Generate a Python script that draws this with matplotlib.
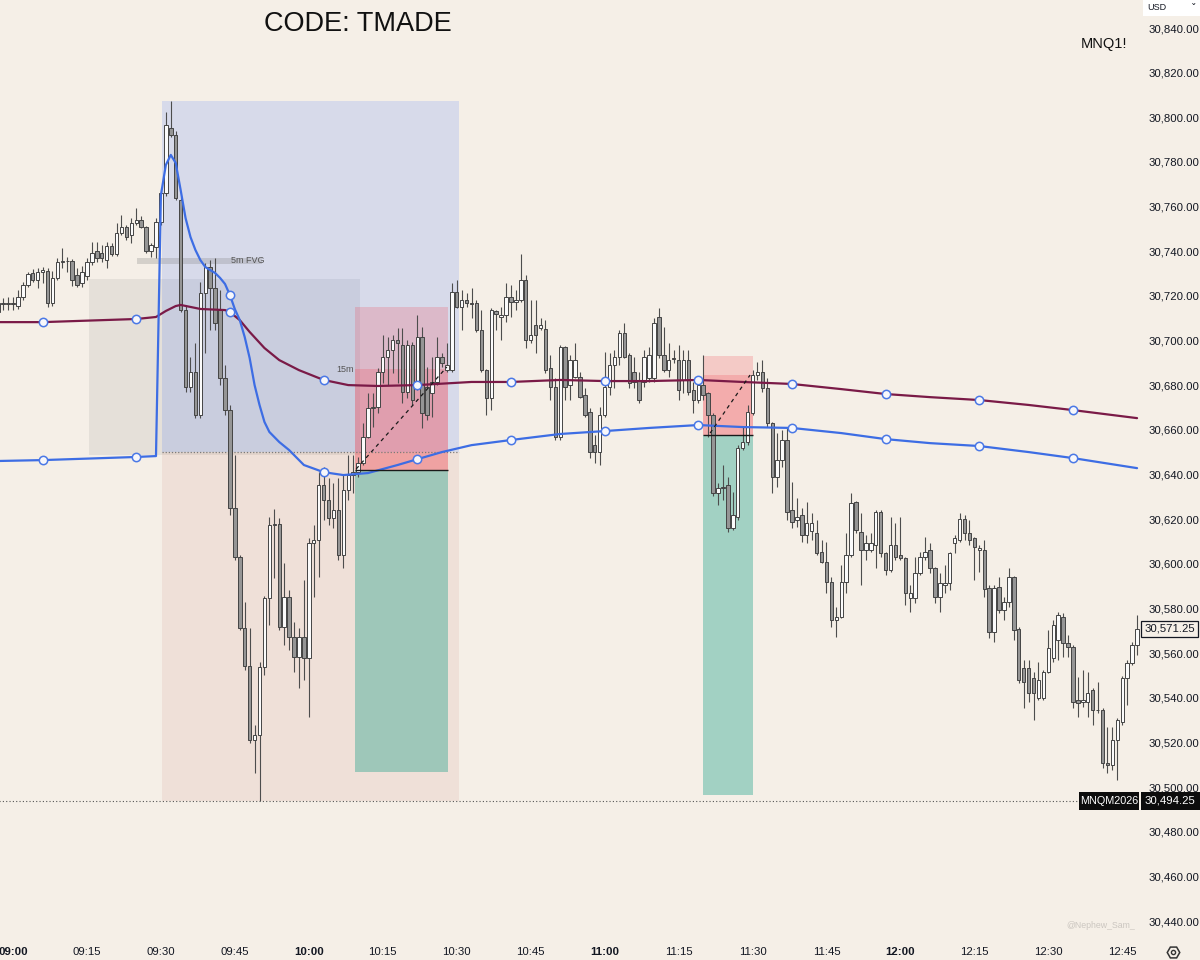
"""
MNQ1! 1分钟K线复刻图 (CODE: TMADE)
"""
import numpy as np
import matplotlib
matplotlib.use('Agg')
import matplotlib.pyplot as plt
from matplotlib import transforms, font_manager
from matplotlib.patches import Rectangle
from matplotlib.lines import Line2D

# ---------------- data ----------------
# 1-minute bars, bar 0 = 09:00
first_bar = -3

opens = [
    30713.2, 30717.3, 30716.8, 30717.3, 30715.9, 30720.0, 30725.3, 30730.7, 30727.6, 30731.1,
    30731.6, 30717.3, 30728.5, 30735.6, 30736.1, 30736.1, 30729.8, 30726.2, 30729.4, 30735.6,
    30740.6, 30739.7, 30736.5, 30742.8, 30739.2, 30748.6, 30751.3, 30747.7, 30753.1, 30754.3,
    30751.3, 30740.6, 30742.3, 30753.5, 30766.5, 30795.7, 30792.5, 30763.4, 30714.1, 30679.6,
    30686.3, 30667.1, 30721.7, 30733.4, 30724.0, 30714.1, 30683.7, 30669.3, 30625.4, 30603.5,
    30571.7, 30554.8, 30521.6, 30523.7, 30554.2, 30585.1, 30617.8, 30618.2, 30572.1, 30585.5,
    30567.6, 30558.7, 30567.6, 30558.2, 30609.7, 30611.1, 30635.7, 30629.0, 30620.9, 30624.5,
    30604.4, 30633.5, 30640.2, 30641.5, 30645.6, 30657.2, 30670.2, 30670.7, 30686.3, 30693.1,
    30696.2, 30700.7, 30698.4, 30677.4, 30698.4, 30680.5, 30702.0, 30679.6, 30676.9, 30681.9,
    30693.1, 30687.2, 30687.2, 30722.2, 30715.5, 30718.6, 30717.3, 30717.3, 30705.2, 30687.2,
    30674.7, 30713.7, 30711.0, 30711.9, 30719.9, 30717.7, 30718.6, 30727.6, 30700.7, 30707.4,
    30706.1, 30705.6, 30688.1, 30679.6, 30657.2, 30697.5, 30680.5, 30684.1, 30684.1, 30676.0,
    30668.4, 30653.6, 30650.5, 30667.1, 30679.6, 30689.5, 30693.1, 30703.8, 30694.0, 30686.3,
    30682.8, 30681.9, 30683.7, 30683.7, 30711.0, 30694.0, 30687.2, 30692.6, 30691.7, 30682.8,
    30691.7, 30678.3, 30673.8, 30680.5, 30676.9, 30667.1, 30632.1, 30634.4, 30635.7, 30616.5,
    30621.4, 30652.3, 30655.0, 30668.0, 30685.0, 30686.3, 30679.2, 30663.5, 30639.3, 30646.9,
    30655.9, 30624.5, 30620.0, 30622.3, 30613.3, 30615.0, 30614.2, 30605.7, 30601.2, 30592.3,
    30575.2, 30576.6, 30592.3, 30604.4, 30628.1, 30614.7, 30606.6, 30606.6, 30608.8, 30623.6,
    30605.3, 30597.6, 30608.8, 30604.4, 30603.0, 30585.1, 30585.1, 30596.3, 30603.5, 30606.6,
    30598.5, 30585.5, 30590.9, 30591.8, 30609.7, 30611.1, 30620.5, 30614.2, 30612.0, 30606.6,
    30606.6, 30589.6, 30569.9, 30590.0, 30579.7, 30583.3, 30594.5, 30571.2, 30553.7, 30553.7,
    30549.3, 30540.3, 30540.3, 30551.9, 30558.2, 30566.3, 30576.6, 30564.9, 30563.1, 30539.4,
    30538.5, 30538.5, 30543.9, 30534.9, 30534.9, 30511.2, 30510.3, 30521.5, 30529.5, 30549.3,
    30556.0, 30564.0,
]
highs = [
    30719.5, 30719.5, 30720.0, 30720.0, 30723.1, 30726.7, 30731.1, 30732.5, 30732.9, 30733.4,
    30732.9, 30731.6, 30737.4, 30741.9, 30737.9, 30737.0, 30732.9, 30733.8, 30737.4, 30744.6,
    30744.6, 30743.2, 30744.6, 30744.1, 30753.1, 30756.7, 30752.2, 30755.3, 30759.8, 30756.2,
    30751.8, 30744.1, 30755.3, 30768.8, 30802.8, 30807.8, 30794.3, 30764.7, 30716.4, 30693.1,
    30699.3, 30726.7, 30735.2, 30736.5, 30737.4, 30723.1, 30689.5, 30671.6, 30649.2, 30604.4,
    30583.3, 30571.8, 30528.2, 30556.4, 30586.0, 30621.4, 30625.0, 30620.9, 30600.8, 30588.7,
    30574.3, 30571.7, 30593.2, 30612.0, 30617.8, 30641.5, 30643.8, 30638.9, 30636.6, 30638.9,
    30640.2, 30649.2, 30649.2, 30648.3, 30663.5, 30676.9, 30676.9, 30688.1, 30702.9, 30702.0,
    30702.9, 30706.1, 30706.1, 30700.7, 30699.8, 30711.9, 30706.5, 30688.6, 30693.1, 30702.0,
    30694.9, 30699.3, 30726.2, 30727.6, 30723.1, 30721.7, 30724.0, 30718.6, 30714.1, 30687.9,
    30715.0, 30714.1, 30715.5, 30726.2, 30725.3, 30723.1, 30739.2, 30729.8, 30718.6, 30718.6,
    30710.5, 30709.6, 30694.0, 30683.7, 30698.4, 30698.0, 30694.0, 30699.3, 30686.3, 30679.2,
    30670.2, 30658.1, 30670.7, 30695.3, 30694.9, 30696.2, 30705.2, 30708.3, 30694.9, 30693.1,
    30686.3, 30696.2, 30697.5, 30710.5, 30715.0, 30706.5, 30699.3, 30696.2, 30698.4, 30696.2,
    30696.2, 30681.9, 30683.7, 30694.0, 30677.4, 30668.0, 30636.6, 30644.7, 30639.3, 30632.6,
    30653.6, 30661.7, 30671.6, 30687.2, 30690.8, 30691.7, 30683.7, 30663.9, 30659.0, 30660.4,
    30661.7, 30637.1, 30629.9, 30625.4, 30628.1, 30623.2, 30620.0, 30611.1, 30610.2, 30594.5,
    30581.1, 30599.9, 30614.2, 30632.1, 30628.5, 30623.2, 30613.3, 30614.2, 30624.5, 30624.5,
    30605.7, 30621.4, 30618.7, 30621.4, 30603.5, 30590.9, 30603.5, 30605.7, 30612.4, 30609.7,
    30599.0, 30596.3, 30599.9, 30605.7, 30613.3, 30623.2, 30622.3, 30620.0, 30612.4, 30608.8,
    30611.1, 30590.9, 30590.9, 30594.5, 30585.5, 30598.5, 30595.0, 30572.1, 30557.3, 30557.3,
    30551.9, 30556.4, 30552.8, 30570.8, 30575.2, 30578.8, 30578.4, 30568.5, 30564.0, 30549.7,
    30552.8, 30551.9, 30544.8, 30547.5, 30535.8, 30527.3, 30527.3, 30531.3, 30550.2, 30557.3,
    30565.4, 30577.5,
]
lows = [
    30711.0, 30714.1, 30714.1, 30714.1, 30714.6, 30718.6, 30724.4, 30726.7, 30724.0, 30726.2,
    30715.5, 30715.9, 30727.6, 30733.0, 30731.1, 30724.9, 30724.4, 30724.4, 30727.6, 30734.3,
    30735.6, 30735.6, 30733.0, 30738.3, 30738.3, 30747.7, 30745.5, 30744.1, 30752.2, 30750.9,
    30739.7, 30737.9, 30737.4, 30752.2, 30765.2, 30791.6, 30763.4, 30713.2, 30677.4, 30677.4,
    30665.7, 30665.7, 30694.9, 30705.2, 30705.2, 30680.5, 30667.1, 30622.3, 30602.1, 30570.8,
    30553.0, 30520.3, 30506.7, 30494.25, 30550.6, 30573.0, 30594.1, 30570.8, 30564.0, 30561.8,
    30551.9, 30544.8, 30548.4, 30531.8, 30585.5, 30594.5, 30620.0, 30617.8, 30616.5, 30602.1,
    30598.5, 30629.0, 30632.1, 30639.3, 30644.7, 30656.8, 30661.7, 30668.0, 30681.4, 30680.5,
    30685.9, 30681.4, 30672.5, 30674.7, 30671.6, 30678.3, 30661.3, 30664.8, 30666.2, 30680.5,
    30688.6, 30686.3, 30686.3, 30715.0, 30705.2, 30715.5, 30710.5, 30704.3, 30686.3, 30667.1,
    30669.3, 30705.2, 30700.7, 30708.7, 30711.0, 30714.1, 30717.7, 30697.1, 30699.3, 30694.9,
    30705.2, 30685.9, 30673.8, 30655.9, 30655.9, 30673.8, 30673.8, 30683.7, 30674.7, 30666.2,
    30647.8, 30645.6, 30644.7, 30666.2, 30676.0, 30679.2, 30689.5, 30692.6, 30679.2, 30679.2,
    30672.5, 30679.6, 30681.9, 30681.9, 30692.6, 30686.3, 30684.1, 30690.4, 30673.8, 30676.9,
    30676.0, 30668.0, 30672.5, 30673.8, 30657.2, 30630.8, 30626.8, 30629.0, 30614.7, 30615.6,
    30620.0, 30651.4, 30653.6, 30667.1, 30682.8, 30677.4, 30661.7, 30632.1, 30634.8, 30643.8,
    30620.0, 30616.5, 30616.9, 30610.2, 30609.7, 30611.1, 30604.4, 30600.8, 30587.3, 30572.1,
    30567.6, 30576.1, 30587.3, 30603.5, 30614.2, 30590.9, 30602.1, 30605.7, 30598.5, 30603.5,
    30595.4, 30596.7, 30602.1, 30602.1, 30582.0, 30578.8, 30582.9, 30595.4, 30602.1, 30596.3,
    30582.9, 30578.8, 30587.3, 30588.7, 30605.3, 30610.2, 30611.1, 30608.8, 30593.2, 30596.7,
    30585.5, 30567.2, 30565.4, 30578.4, 30575.2, 30581.1, 30566.3, 30547.0, 30535.8, 30538.5,
    30530.4, 30539.4, 30539.4, 30551.5, 30556.4, 30557.3, 30558.7, 30558.7, 30535.8, 30531.8,
    30536.3, 30531.8, 30528.2, 30533.6, 30508.9, 30506.7, 30508.0, 30503.6, 30528.2, 30537.2,
    30555.1, 30559.6,
]
closes = [
    30717.3, 30716.8, 30717.3, 30716.8, 30720.0, 30725.3, 30730.2, 30727.6, 30731.1, 30732.0,
    30717.3, 30728.5, 30735.6, 30736.1, 30736.3, 30727.6, 30725.3, 30731.1, 30735.6, 30739.7,
    30737.4, 30737.4, 30742.8, 30739.2, 30748.6, 30751.3, 30746.8, 30753.1, 30754.3, 30751.3,
    30740.6, 30743.2, 30753.5, 30766.5, 30797.0, 30792.5, 30764.3, 30714.1, 30679.6, 30686.3,
    30667.1, 30721.7, 30733.4, 30724.0, 30708.3, 30683.7, 30669.3, 30625.4, 30603.5, 30571.7,
    30554.8, 30521.6, 30523.7, 30554.2, 30585.1, 30617.8, 30618.2, 30572.1, 30585.5, 30567.6,
    30558.7, 30567.6, 30558.2, 30609.7, 30611.1, 30635.7, 30629.0, 30620.9, 30624.5, 30604.4,
    30633.5, 30640.2, 30641.5, 30645.6, 30657.2, 30670.2, 30670.7, 30686.3, 30693.1, 30696.2,
    30700.7, 30699.3, 30677.4, 30698.4, 30673.8, 30702.0, 30668.0, 30667.1, 30681.9, 30693.1,
    30690.4, 30689.5, 30722.2, 30715.5, 30718.6, 30717.3, 30717.0, 30705.2, 30687.2, 30674.7,
    30714.1, 30712.3, 30711.9, 30719.9, 30717.7, 30718.6, 30727.6, 30700.7, 30702.9, 30702.9,
    30707.4, 30687.2, 30679.6, 30657.2, 30697.5, 30679.6, 30691.7, 30691.7, 30675.1, 30667.1,
    30650.5, 30650.5, 30667.1, 30679.6, 30689.5, 30693.1, 30703.8, 30693.1, 30681.4, 30681.9,
    30673.8, 30693.1, 30694.0, 30708.5, 30694.0, 30687.2, 30691.7, 30692.4, 30678.3, 30691.7,
    30677.4, 30673.8, 30680.5, 30676.0, 30667.1, 30632.1, 30634.4, 30634.8, 30616.5, 30622.3,
    30652.3, 30655.0, 30668.4, 30685.0, 30686.3, 30679.2, 30663.5, 30639.3, 30646.9, 30655.9,
    30623.6, 30619.1, 30621.4, 30613.3, 30618.7, 30618.7, 30605.3, 30601.2, 30592.3, 30575.2,
    30576.6, 30592.3, 30604.4, 30627.7, 30615.6, 30606.6, 30609.7, 30609.7, 30623.6, 30605.3,
    30597.6, 30608.8, 30603.5, 30603.0, 30587.3, 30587.3, 30596.3, 30603.5, 30605.7, 30598.5,
    30585.5, 30591.8, 30591.8, 30605.3, 30612.0, 30620.5, 30614.2, 30611.1, 30607.9, 30607.5,
    30589.1, 30569.9, 30589.6, 30579.7, 30583.3, 30594.5, 30570.8, 30548.4, 30547.5, 30542.5,
    30542.5, 30548.4, 30551.9, 30562.7, 30573.0, 30577.5, 30564.9, 30563.1, 30538.5, 30538.1,
    30539.4, 30542.5, 30534.9, 30535.1, 30511.2, 30510.3, 30521.5, 30530.4, 30549.3, 30556.0,
    30564.0, 30571.25,
]

# blue VWAP (resets at 09:30)
vwap_bars = [-3, 6, 25, 29, 30, 31, 32, 33, 34, 35, 36, 37, 38, 39, 40, 41, 42, 43, 44, 45,
             46, 47, 48, 49, 50, 51, 52, 54, 56, 59, 63, 67, 72, 78, 82, 87, 93, 101, 111, 120,
             129, 139, 148, 158, 168, 177, 186, 196, 206, 215, 228]
vwap_vals = [30646.5, 30646.9, 30648.3, 30648.7, 30765.6, 30779.1, 30783.6, 30780.0, 30767.9,
             30755.3, 30746.8, 30741.0, 30736.5, 30733.4, 30732.0, 30730.7, 30728.5, 30725.8,
             30720.8, 30714.5, 30709.6, 30702.0, 30692.6, 30680.5, 30671.6, 30664.0, 30659.5,
             30655.0, 30651.4, 30644.7, 30641.5, 30640.2, 30641.1, 30644.7, 30647.3, 30650.5,
             30653.6, 30655.9, 30658.6, 30659.9, 30661.3, 30662.6, 30661.7, 30661.3, 30659.0,
             30656.3, 30654.5, 30653.2, 30650.5, 30647.8, 30643.3]

# maroon average line
avg_bars = [-3, 6, 25, 29, 31, 33, 34, 36, 38, 43, 44, 46, 48, 51, 54, 58, 63, 68, 74, 82,
            93, 101, 111, 120, 129, 139, 148, 158, 168, 177, 186, 196, 206, 215, 228]
avg_vals = [30708.7, 30708.7, 30710.1, 30711.0, 30713.7, 30715.9, 30716.4, 30715.5, 30714.6,
            30714.1, 30713.2, 30709.6, 30704.3, 30697.1, 30691.7, 30687.2, 30682.8, 30680.5,
            30680.1, 30680.5, 30681.9, 30681.9, 30682.8, 30682.3, 30682.3, 30682.8, 30681.9,
            30681.0, 30678.7, 30676.5, 30675.1, 30673.8, 30671.6, 30669.3, 30665.7]

marker_bars = [6, 25, 44, 63, 82, 101, 120, 139, 158, 177, 196, 215]

# drawings (bars / prices)
pre_box_bars = (15.4, 70.4)
pre_box_prices = (30649.2, 30728.0)
range_bars = (30.2, 90.5)
range_high, range_mid, range_low = 30807.75, 30650.5, 30494.25
fvg5_bars = (25.2, 50.5)
fvg5_prices = (30734.9, 30737.6)

trade1_bars = (69.4, 88.2)
trade1_stop, trade1_fvg, trade1_entry, trade1_target = 30715.5, 30687.7, 30642.5, 30507.2
trade1_path = ([69.6, 88.0], [30642.9, 30688.6])
trade2_bars = (140.0, 150.1)
trade2_stop, trade2_fvg, trade2_entry, trade2_target = 30693.5, 30685.0, 30658.1, 30496.9
trade2_path = ([141.4, 149.5], [30659.0, 30685.0])

last_price = 30571.25
low_price = 30494.25

price_ticks = list(range(30440, 30841, 20))
time_bars = [0, 15, 30, 45, 60, 75, 90, 105, 120, 135, 150, 165, 180, 195, 210, 225]
time_labels = ['09:00', '09:15', '09:30', '09:45', '10:00', '10:15', '10:30', '10:45',
               '11:00', '11:15', '11:30', '11:45', '12:00', '12:15', '12:30', '12:45']

# ---------------- style ----------------
BG = '#f5efe7'
W, H = 1200, 960
names = {f.name for f in font_manager.fontManager.ttflist}
AX_FONT = 'Liberation Sans' if 'Liberation Sans' in names else 'DejaVu Sans'
if 'Liberation Sans Narrow' in names:
    TITLE_FONT, TITLE_SIZE, SYM_SIZE = 'Liberation Sans Narrow', 22, 12.5
else:
    TITLE_FONT, TITLE_SIZE, SYM_SIZE = AX_FONT, 19.5, 10.5

fig = plt.figure(figsize=(12, 9.6), dpi=100, facecolor=BG)
ax = fig.add_axes([0, 20 / H, 1141 / W, 940 / H])
ax.set_facecolor(BG)
ax.set_xlim(-2.64, 228.8)
ax.set_ylim(30431.94, 30852.99)
for s in ax.spines.values():
    s.set_visible(False)
ax.set_xticks([])
ax.set_yticks([])


def box(x0, x1, y0, y1, color, alpha, z=1):
    ax.add_patch(Rectangle((x0, y0), x1 - x0, y1 - y0, facecolor=color,
                           alpha=alpha, lw=0, zorder=z))


# shaded zones
box(*pre_box_bars, *pre_box_prices, '#787878', 0.12)
box(*range_bars, range_mid, range_high, '#2962ff', 0.145)
box(*range_bars, range_low, range_mid, '#c77a6e', 0.12)
box(*fvg5_bars, *fvg5_prices, '#8a8a8a', 0.3)
ax.hlines(range_mid, *range_bars, color='#7a7a7a', lw=0.9, linestyles=(0, (1, 1.5)), zorder=2)

for bars_, stop, fvg, entry, target, path in [
        (trade1_bars, trade1_stop, trade1_fvg, trade1_entry, trade1_target, trade1_path),
        (trade2_bars, trade2_stop, trade2_fvg, trade2_entry, trade2_target, trade2_path)]:
    box(*bars_, entry, stop, '#f23645', 0.2)
    box(*bars_, entry, fvg, '#f23645', 0.2)
    box(*bars_, target, entry, '#089981', 0.35)
    ax.hlines(entry, *bars_, color='#1a1a1a', lw=1.0, zorder=7)
    ax.plot(*path, color='#1a1a1a', lw=0.9, ls=(0, (3, 3)), zorder=7)

ax.text(fvg5_bars[1] - 6.3, np.mean(fvg5_prices), '5m FVG', fontsize=6.5,
        color='#555555', va='center', ha='left', family=AX_FONT, zorder=8)
ax.text(trade1_bars[0] - 0.3, trade1_fvg, '15m', fontsize=6.5, color='#555555',
        va='center', ha='right', family=AX_FONT, zorder=8)

# candles
bars = np.arange(first_bar, first_bar + len(closes))
o, hi, lo, c = (np.array(v) for v in (opens, highs, lows, closes))
up = c >= o
ax.vlines(bars, lo, hi, color='#4d4d4d', lw=0.8, zorder=3)
ax.bar(bars[up], (c - o)[up], bottom=o[up], width=0.7, color='#fbfbfb',
       edgecolor='#444444', lw=0.7, zorder=4)
ax.bar(bars[~up], (o - c)[~up], bottom=c[~up], width=0.7, color='#959595',
       edgecolor='#444444', lw=0.7, zorder=4)

# indicator lines
for xs, ys, col in [(avg_bars, avg_vals, '#7a1a47'), (vwap_bars, vwap_vals, '#3d6de4')]:
    ax.plot(xs, ys, color=col, lw=1.6, zorder=5, solid_capstyle='round',
            solid_joinstyle='round')
    idx = [xs.index(b) for b in marker_bars]
    ax.plot(np.array(xs)[idx], np.array(ys)[idx], 'o', ms=6, mfc='#f7f7fb',
            mec='#4a78e6', mew=1.1, zorder=6)

# low line
ax.hlines(low_price, -3, (1078 - 13) / 4.93, color='#555555', lw=0.8,
          linestyles=(0, (1, 2)), zorder=2)

# ---------------- axes text ----------------
ty = transforms.blended_transform_factory(fig.transFigure, ax.transData)
tx = transforms.blended_transform_factory(ax.transData, fig.transFigure)

for p in price_ticks:
    fig.text(1149 / W, p, f'{p:,.2f}', transform=ty, ha='left', va='center',
             fontsize=8.2, color='#131722', family=AX_FONT)

for b, lab in zip(time_bars, time_labels):
    fig.text(b, 1 - 952 / H, lab, transform=tx, ha='center', va='center', fontsize=8.2,
             color='#131722', family=AX_FONT,
             fontweight='bold' if lab.endswith(':00') else 'normal')

# last price tag
fig.add_artist(Rectangle((1141 / W, last_price - 3.6), 57 / W, 7.2, transform=ty,
                         facecolor=BG, edgecolor='#131722', lw=0.9, zorder=9))
fig.text(1169.5 / W, last_price, f'{last_price:,.2f}', transform=ty, ha='center',
         va='center', fontsize=8.2, color='#131722', family=AX_FONT, zorder=10)

# low tags
fig.add_artist(Rectangle((1079 / W, low_price - 4.0), 60 / W, 8.0, transform=ty,
                         facecolor='#0c0c0c', lw=0, zorder=9))
fig.add_artist(Rectangle((1141 / W, low_price - 4.0), 59 / W, 8.0, transform=ty,
                         facecolor='#0c0c0c', lw=0, zorder=9))
fig.text(1109 / W, low_price, 'MNQM2026', transform=ty, ha='center', va='center',
         fontsize=7.8, color='white', family=AX_FONT, zorder=10)
fig.text(1170 / W, low_price, f'{low_price:,.2f}', transform=ty, ha='center',
         va='center', fontsize=8.2, color='white', family=AX_FONT, zorder=10)

# header
fig.add_artist(Rectangle((1143 / W, 1 - 16 / H), 57 / W, 16 / H, transform=fig.transFigure,
                         facecolor='white', lw=0, zorder=9))
fig.text(1147 / W, 1 - 8 / H, 'USD', fontsize=6.5, color='#131722', va='center',
         family=AX_FONT, zorder=10)
fig.text(1194 / W, 1 - 9 / H, 'ˇ', fontsize=8, color='#131722', va='center', ha='center',
         zorder=10)

fig.text(358 / W, 1 - 24 / H, 'CODE: TMADE', fontsize=TITLE_SIZE, ha='center', va='center',
         color='#111111', family=TITLE_FONT)
fig.text(1104 / W, 1 - 44 / H, 'MNQ1!', fontsize=SYM_SIZE, ha='center', va='center',
         color='#111111', family=TITLE_FONT)

fig.text(1101 / W, 1 - 925 / H, '@Nephew_Sam_', fontsize=6.3, ha='center', va='center',
         color='#cbc6c0', family=AX_FONT)

# settings icon
fig.add_artist(Line2D([1173 / W], [1 - 952 / H], marker='H', ms=9, mfc='none', mec='#333333',
                      mew=1.1, transform=fig.transFigure))
fig.add_artist(Line2D([1173 / W], [1 - 952 / H], marker='o', ms=3, mfc='none', mec='#333333',
                      mew=1.0, transform=fig.transFigure))

fig.savefig('out.png', dpi=100, facecolor=BG)
